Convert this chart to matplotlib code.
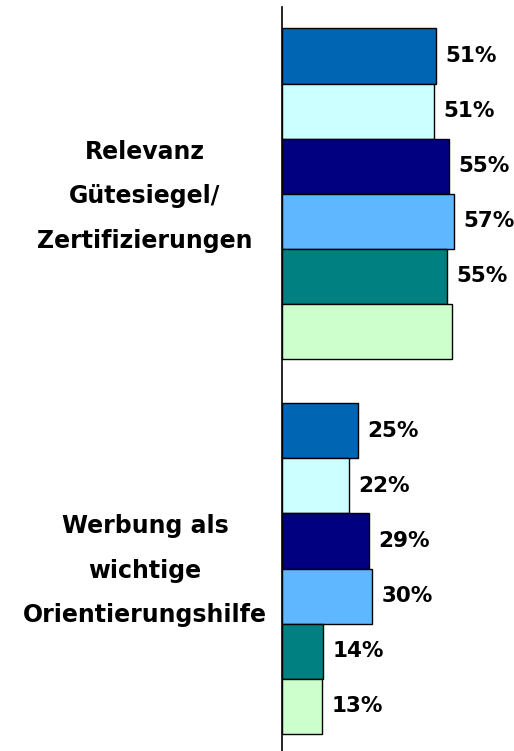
import numpy as np
import matplotlib
matplotlib.use("Agg")
import matplotlib.pyplot as plt
import matplotlib.transforms as mtransforms

# data
categories = ["Relevanz\nGütesiegel/\nZertifizierungen",
              "Werbung als\nwichtige\nOrientierungshilfe"]
series_colors = ["#0066B3", "#CCFFFF", "#000080", "#5FB8FF", "#008080", "#CCFFCC"]
values_guetesiegel = [51.1, 50.5, 55.5, 57.0, 54.7, 56.5]
values_werbung = [25.2, 22.2, 28.9, 30.0, 13.7, 13.2]
labels_guetesiegel = ["51%", "51%", "55%", "57%", "55%", ""]
labels_werbung = ["25%", "22%", "29%", "30%", "14%", "13%"]

groups = [values_guetesiegel, values_werbung]
group_labels = [labels_guetesiegel, labels_werbung]

fig = plt.figure(figsize=(5.14, 7.51), dpi=100)
ax = fig.add_axes([282 / 514, 0, 232 / 514, 744 / 751])

group_gap = 6.8
for g, (vals, labs) in enumerate(zip(groups, group_labels)):
    ypos = g * group_gap + np.arange(len(vals)) - 2.5
    ax.barh(ypos, vals, height=1.0, color=series_colors,
            edgecolor="black", linewidth=1.0)
    for y, v, lab in zip(ypos, vals, labs):
        ax.annotate(lab, (v, y), xytext=(7, 0), textcoords="offset points",
                    ha="left", va="center", fontsize=15.5, fontweight="bold")

# category labels on the left
trans = mtransforms.blended_transform_factory(fig.transFigure, ax.transData)
for g, cat in enumerate(categories):
    ax.text(145 / 514, g * group_gap + 0.04, cat, transform=trans, ha="center",
            va="center", fontsize=17, fontweight="bold", linespacing=2.08)

ax.set_xlim(0, 232 / 3.01)
ax.set_ylim(-3.39 + 13.5, -3.39)
for side in ["top", "right", "bottom"]:
    ax.spines[side].set_visible(False)
ax.spines["left"].set_linewidth(1.2)
ax.set_xticks([])
ax.set_yticks([])

fig.savefig("out.png", dpi=100)
